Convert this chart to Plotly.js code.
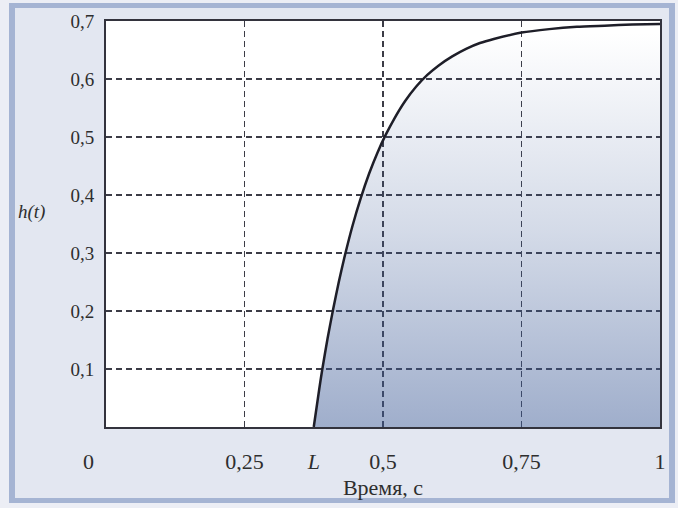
<!DOCTYPE html>
<html>
<head>
<meta charset="utf-8">
<script src="https://cdn.plot.ly/plotly-3.0.1.min.js"></script>
<style>
  html, body { margin: 0; padding: 0; background: #eceef5; width: 678px; height: 508px; overflow: hidden; }
  #panel { position: absolute; left: 9px; top: 3px; width: 654px; height: 490px;
           border-left: 6px solid #a5b4d3; border-right: 6px solid #a5b4d3;
           border-top: 5px solid #a5b4d3; border-bottom: 5px solid #a5b4d3; background: #e3e7f1; }
  #chart { position: absolute; left: 0; top: 0; width: 678px; height: 508px; }
</style>
</head>
<body>
<div id="panel"></div>
<div id="chart"></div>
<script>
// Step response h(t)
const timeValues = [0.375, 0.385, 0.39, 0.40, 0.41, 0.42, 0.43, 0.445, 0.46, 0.475, 0.49, 0.505, 0.52, 0.54, 0.56, 0.58, 0.60, 0.625, 0.65, 0.675, 0.70, 0.75, 0.80, 0.85, 0.90, 0.95, 1.0];
const hValues    = [0.0, 0.066, 0.097, 0.153, 0.203, 0.249, 0.291, 0.347, 0.395, 0.437, 0.473, 0.504, 0.531, 0.562, 0.587, 0.607, 0.623, 0.639, 0.652, 0.662, 0.669, 0.680, 0.686, 0.690, 0.692, 0.694, 0.695];

const xTickVals  = [0.25, 0.375, 0.5, 0.75, 1];
const xTickText  = ['0,25', '<i>L</i>', '0,5', '0,75', '1'];
const xGridVals  = [0.25, 0.5, 0.75];
const yTickVals  = [0.1, 0.2, 0.3, 0.4, 0.5, 0.6, 0.7];
const yTickText  = ['0,1', '0,2', '0,3', '0,4', '0,5', '0,6', '0,7'];

const serif = "'Liberation Serif', 'DejaVu Serif', serif";
const textColor = '#2e2e2e';
const gridColor = '#3c3c46';

const trace = {
  x: timeValues, y: hValues,
  type: 'scatter', mode: 'lines',
  line: { color: '#1e1e28', width: 2.5, shape: 'spline', smoothing: 0.6 },
  fill: 'tozeroy',
  fillgradient: { type: 'vertical', start: 0, stop: 0.68,
                  colorscale: [[0, 'rgba(60,90,150,0.49)'], [0.5, 'rgba(60,90,150,0.22)'], [1, 'rgba(60,90,150,0)']] },
  hoverinfo: 'skip'
};

const layout = {
  width: 678, height: 508,
  margin: { l: 106, r: 18, t: 21, b: 81 },
  paper_bgcolor: 'rgba(0,0,0,0)',
  plot_bgcolor: '#ffffff',
  showlegend: false,
  font: { family: serif, size: 19, color: textColor },
  xaxis: {
    range: [0, 1], fixedrange: true,
    tickmode: 'array', tickvals: xTickVals, ticktext: xTickText,
    ticks: 'outside', ticklen: 14, tickcolor: 'rgba(0,0,0,0)',
    showgrid: false, zeroline: false,
    minor: { tickmode: 'array', tickvals: xGridVals, showgrid: true, gridcolor: gridColor, gridwidth: 1.3, griddash: '6px,4px', ticks: '' },
    showline: true, mirror: true, linecolor: '#33333d', linewidth: 2,
    tickfont: { family: serif, size: 22, color: textColor },
    title: { text: 'Время, с', font: { family: serif, size: 22, color: textColor }, standoff: 6 }
  },
  yaxis: {
    range: [0, 0.7], fixedrange: true,
    tickmode: 'array', tickvals: yTickVals, ticktext: yTickText,
    ticks: 'outside', ticklen: 6, tickcolor: 'rgba(0,0,0,0)',
    showgrid: true, gridcolor: gridColor, gridwidth: 1.3, griddash: '6px,4px',
    zeroline: false,
    showline: true, mirror: true, linecolor: '#33333d', linewidth: 2,
    tickfont: { family: serif, size: 19, color: textColor }
  },
  annotations: [
    { text: '0', xref: 'x', yref: 'paper', x: 0, y: 0, xanchor: 'center', yanchor: 'top',
      xshift: -18, yshift: -20, showarrow: false, font: { family: serif, size: 22, color: textColor } },
    { text: '<i>h(t)</i>', xref: 'paper', yref: 'paper', x: -0.135, y: 0.53, xanchor: 'center', yanchor: 'middle',
      showarrow: false, font: { family: serif, size: 19, color: textColor } }
  ]
};

Plotly.newPlot('chart', [trace], layout, { staticPlot: true, displayModeBar: false });
</script>
</body>
</html>
